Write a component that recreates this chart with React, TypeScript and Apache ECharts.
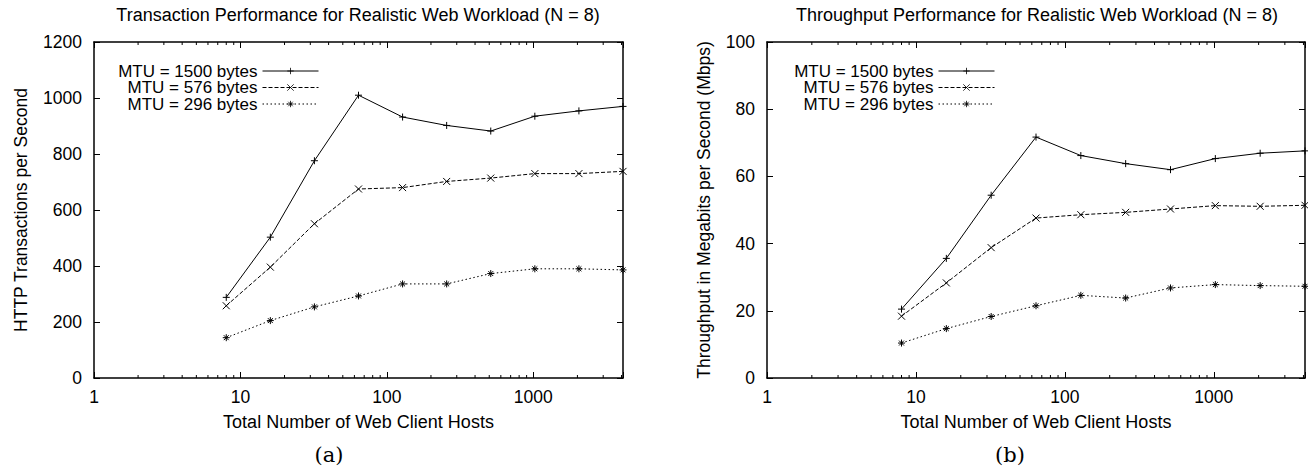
import React, { useEffect, useRef } from "react";
import * as echarts from "echarts";

const hosts = [8, 16, 32, 64, 128, 256, 512, 1024, 2048, 4096];
const tps1500 = [288, 503, 776, 1010, 932, 902, 882, 935, 954, 970];
const tps576 = [258, 396, 551, 675, 680, 702, 714, 730, 730, 738];
const tps296 = [144, 205, 254, 293, 336, 336, 373, 390, 390, 386];
const mbps1500 = [20.5, 35.6, 54.4, 71.7, 66.2, 63.8, 62.0, 65.3, 66.9, 67.6];
const mbps576 = [18.4, 28.3, 38.8, 47.6, 48.6, 49.3, 50.3, 51.3, 51.1, 51.4];
const mbps296 = [10.4, 14.7, 18.3, 21.5, 24.6, 23.8, 26.8, 27.8, 27.5, 27.3];
const majorXLabels = [1, 10, 100, 1000];
const minorTicks = [2, 3, 4, 5, 6, 7, 8, 9, 20, 30, 40, 50, 60, 70, 80, 90, 200, 300, 400, 500, 600, 700, 800, 900, 2000, 3000, 4000];
const seriesNames = ["MTU = 1500 bytes", "MTU = 576 bytes", "MTU = 296 bytes"];
const titles = [
  "Transaction Performance for Realistic Web Workload (N = 8)",
  "Throughput Performance for Realistic Web Workload (N = 8)",
];
const yNames = ["HTTP Transactions per Second", "Throughput in Megabits per Second (Mbps)"];
const xName = "Total Number of Web Client Hosts";
const captions = ["(a)", "(b)"];

const FONT = "Liberation Sans";
const SYM_PLUS = "path://M0,5L10,5M5,0L5,10";
const SYM_X = "path://M0,0L10,10M10,0L0,10";
const SYM_STAR = "path://M0,5L10,5M5,0L5,10M1.5,1.5L8.5,8.5M8.5,1.5L1.5,8.5";

export default function App() {
  const ref = useRef<HTMLDivElement>(null);
  useEffect(() => {
    if (!ref.current) return;
    const chart = echarts.init(ref.current, null, { renderer: "svg" });
    const grids = [
      { left: 94, top: 42, width: 529, height: 336 },
      { left: 767, top: 42, width: 539, height: 336 },
    ];
    const yRanges = [
      { min: 0, max: 1200, interval: 200 },
      { min: 0, max: 100, interval: 20 },
    ];
    const yGaps = [64, 54];
    const xAxes: any[] = [];
    const yAxes: any[] = [];
    [0, 1].forEach((g) => {
      const baseX = {
        type: "log",
        logBase: 10,
        min: 1,
        max: 4096,
        gridIndex: g,
        splitLine: { show: false },
        axisLine: { show: true, onZero: false, lineStyle: { color: "#000", width: 1.5 } },
        axisTick: { show: true, inside: true, length: 6, lineStyle: { color: "#000", width: 1 } },
      };
      xAxes.push({
        ...baseX,
        position: "bottom",
        name: xName,
        nameLocation: "middle",
        nameGap: 35,
        nameTextStyle: { fontFamily: FONT, fontSize: 18, color: "#000" },
        axisLabel: {
          show: true,
          margin: 10,
          fontFamily: FONT,
          fontSize: 17.5,
          color: "#000",
          formatter: (v: number) => {
            const r = Math.round(v);
            return majorXLabels.includes(r) ? String(r) : "";
          },
        },
      });
      xAxes.push({ ...baseX, position: "top", axisLabel: { show: false } });
      const baseY = {
        type: "value",
        gridIndex: g,
        ...yRanges[g],
        splitLine: { show: false },
        axisLine: { show: true, onZero: false, lineStyle: { color: "#000", width: 1.5 } },
        axisTick: { show: true, inside: true, length: 6, lineStyle: { color: "#000", width: 1 } },
      };
      yAxes.push({
        ...baseY,
        position: "left",
        name: yNames[g],
        nameLocation: "middle",
        nameGap: yGaps[g],
        nameRotate: 90,
        nameTextStyle: { fontFamily: FONT, fontSize: 17.5, color: "#000" },
        axisLabel: {
          show: true,
          margin: 12,
          fontFamily: FONT,
          fontSize: 17.5,
          color: "#000",
          formatter: (v: number) => String(v),
        },
      });
      yAxes.push({ ...baseY, position: "right", axisLabel: { show: false } });
    });

    const dataSets = [
      [tps1500, tps576, tps296],
      [mbps1500, mbps576, mbps296],
    ];
    const symbols = [SYM_PLUS, SYM_X, SYM_STAR];
    const dashes: any[] = ["solid", [4, 2], [1.5, 2.5]];
    const series: any[] = [];
    [0, 1].forEach((g) => {
      dataSets[g].forEach((vals, i) => {
        series.push({
          type: "line",
          name: seriesNames[i],
          xAxisIndex: g * 2,
          yAxisIndex: g * 2,
          data: hosts.map((h, k) => [h, vals[k]]),
          symbol: symbols[i],
          symbolSize: 7,
          showSymbol: true,
          lineStyle: { color: "#000", width: 1, type: dashes[i] },
          itemStyle: { color: "#000", borderColor: "#000", borderWidth: 1 },
          z: 3,
        });
      });
      const yMin = yRanges[g].min;
      const yMax = yRanges[g].max;
      series.push({
        type: "custom",
        name: "minor" + g,
        xAxisIndex: g * 2,
        yAxisIndex: g * 2,
        data: minorTicks.map((v) => [v, 0]),
        clip: false,
        silent: true,
        renderItem: (params: any, api: any) => {
          const v = api.value(0);
          const b = api.coord([v, yMin]);
          const t = api.coord([v, yMax]);
          return {
            type: "group",
            children: [
              { type: "line", shape: { x1: b[0], y1: b[1], x2: b[0], y2: b[1] - 3 }, style: { stroke: "#000", lineWidth: 1 } },
              { type: "line", shape: { x1: t[0], y1: t[1], x2: t[0], y2: t[1] + 3 }, style: { stroke: "#000", lineWidth: 1 } },
            ],
          };
        },
      });
    });

    const legendCommon = {
      orient: "vertical",
      align: "right",
      data: seriesNames,
      itemWidth: 56,
      itemHeight: 8,
      itemGap: -0.5,
      padding: 0,
      selectedMode: false,
      itemStyle: { borderWidth: 0.8 },
      lineStyle: { width: 1 },
      textStyle: { fontFamily: FONT, fontSize: 17, color: "#000" },
      top: 62.5,
    };

    const graphic: any[] = [];
    const titleX = [358, 1037];
    const captionX = [329, 1010];
    [0, 1].forEach((g) => {
      graphic.push({
        type: "text",
        x: titleX[g],
        y: 15,
        style: { text: titles[g], fontFamily: FONT, fontSize: 18, fill: "#000", textAlign: "center", textVerticalAlign: "middle" },
      });
      graphic.push({
        type: "text",
        x: captionX[g],
        y: 455,
        style: { text: captions[g], fontFamily: "DejaVu Serif", fontSize: 21, fill: "#000", textAlign: "center", textVerticalAlign: "middle" },
      });
    });

    chart.setOption({
      animation: false,
      backgroundColor: "#fff",
      grid: grids,
      xAxis: xAxes,
      yAxis: yAxes,
      legend: [
        { ...legendCommon, right: 1308 - 319 },
        { ...legendCommon, right: 1308 - 995 },
      ],
      graphic,
      series,
    });
    return () => chart.dispose();
  }, []);
  return <div ref={ref} style={{ position: "absolute", left: 0, top: 0, width: 1308, height: 470 }} />;
}
